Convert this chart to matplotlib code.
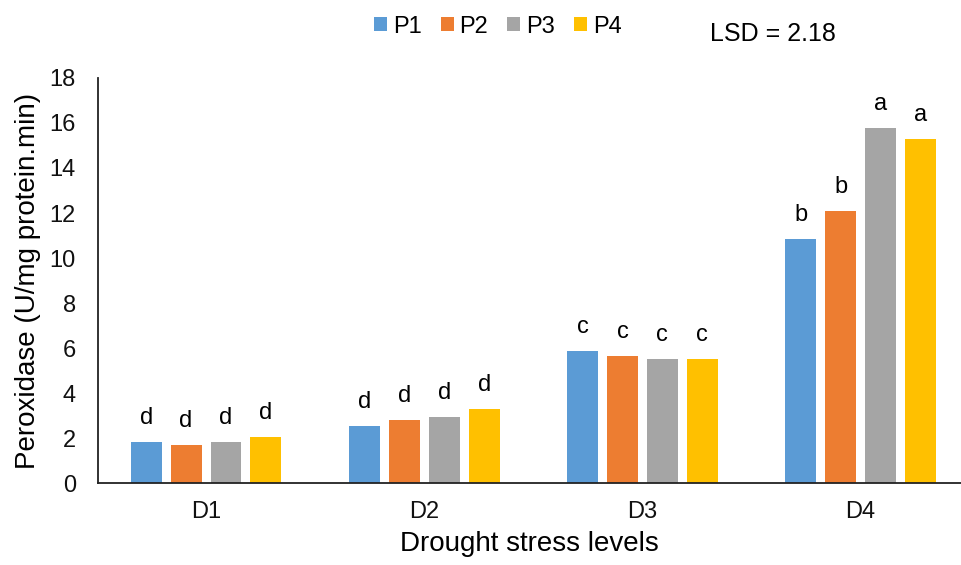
import numpy as np
import matplotlib
matplotlib.use('Agg')
import matplotlib.pyplot as plt

plt.rcParams['font.family'] = ['Liberation Sans', 'DejaVu Sans']

# data
levels = ['D1', 'D2', 'D3', 'D4']
series = ['P1', 'P2', 'P3', 'P4']
p1 = [1.81, 2.55, 5.88, 10.83]
p2 = [1.69, 2.80, 5.64, 12.08]
p3 = [1.81, 2.92, 5.51, 15.78]
p4 = [2.04, 3.29, 5.51, 15.29]
letters_p1 = ['d', 'd', 'c', 'b']
letters_p2 = ['d', 'd', 'c', 'b']
letters_p3 = ['d', 'd', 'c', 'a']
letters_p4 = ['d', 'd', 'c', 'a']
colors = ['#5B9BD5', '#ED7D31', '#A5A5A5', '#FFC000']

fig = plt.figure(figsize=(9.61, 5.65), dpi=100)
ax = fig.add_axes([0.102, 0.145, 0.898, 0.717])

x = np.arange(len(levels))
step = 0.183
width = 0.142
values = [p1, p2, p3, p4]
letters = [letters_p1, letters_p2, letters_p3, letters_p4]

for i, (vals, lets) in enumerate(zip(values, letters)):
    pos = x + (i - 1.5) * step
    bars = ax.bar(pos, vals, width=width, color=colors[i], label=series[i])
    for b, lab in zip(bars, lets):
        ax.annotate(lab, (b.get_x() + b.get_width() / 2, b.get_height()),
                    xytext=(0, 13), textcoords='offset points',
                    ha='center', va='baseline', fontsize=17)

ax.set_xlim(-0.495, 3.46)
ax.set_ylim(0, 18)
ax.set_yticks(range(0, 19, 2))
ax.set_xticks(x)
ax.set_xticklabels(levels)
ax.tick_params(axis='both', length=0, labelsize=17, colors='#111111')
ax.tick_params(axis='y', pad=16)
ax.tick_params(axis='x', pad=13)
for s in ['top', 'right']:
    ax.spines[s].set_visible(False)
for s in ['left', 'bottom']:
    ax.spines[s].set_color('#222222')
    ax.spines[s].set_linewidth(1.3)

ax.set_ylabel('Peroxidase (U/mg protein.min)', fontsize=20, labelpad=6)
ax.set_xlabel('Drought stress levels', fontsize=20, labelpad=6)

fig.legend(loc='center', bbox_to_anchor=(0.518, 0.953), ncol=4, frameon=False,
           fontsize=17, handlelength=0.55, handleheight=0.55, handletextpad=0.25,
           columnspacing=0.8, borderpad=0.2)
fig.text(0.739, 0.94, 'LSD = 2.18', fontsize=18, va='center', ha='left')

fig.savefig('out.png', dpi=100)
